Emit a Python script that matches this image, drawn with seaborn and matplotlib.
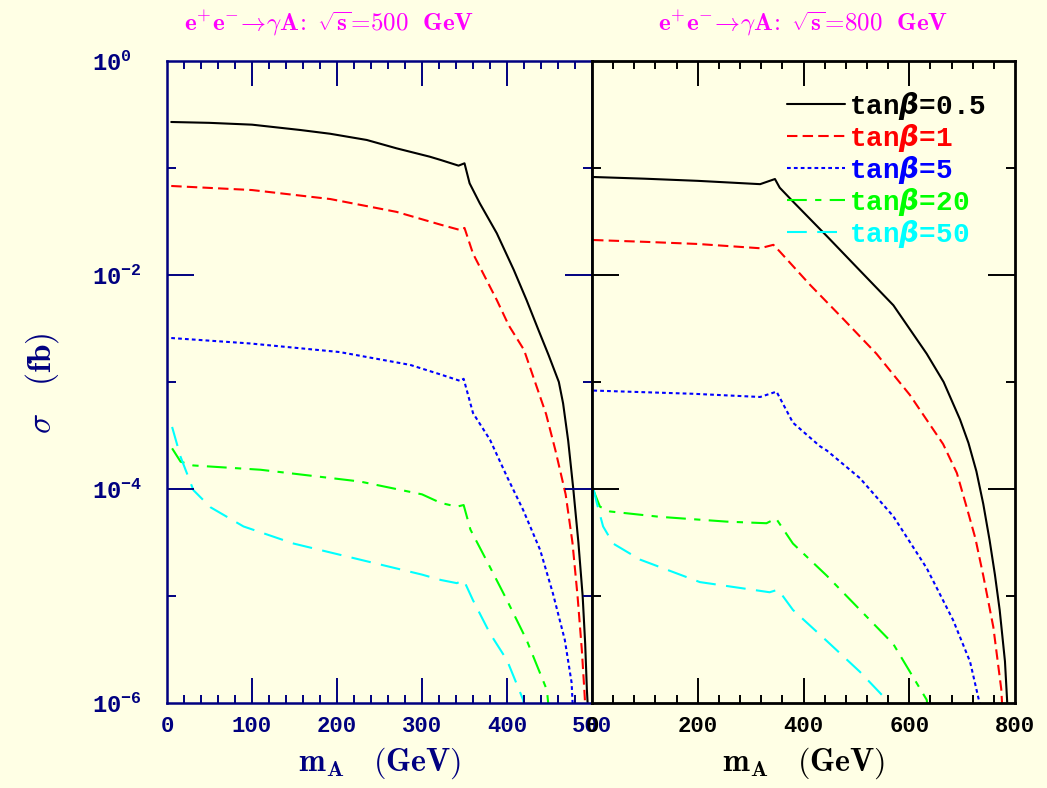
import numpy as np
import pandas as pd
import matplotlib
matplotlib.use("Agg")
import matplotlib.pyplot as plt
import seaborn as sns
from matplotlib.ticker import FixedLocator, MultipleLocator, NullFormatter

sns.set_theme(style="ticks")
plt.rcParams["font.family"] = ["Liberation Mono", "DejaVu Sans Mono", "DejaVu Sans"]
plt.rcParams["mathtext.fontset"] = "custom"
plt.rcParams["mathtext.rm"] = "Liberation Mono"
plt.rcParams["mathtext.it"] = "DejaVu Sans:italic:bold"
plt.rcParams["mathtext.bf"] = "Liberation Mono:bold"
plt.rcParams["mathtext.fallback"] = "cm"
plt.rcParams["axes.axisbelow"] = False

BG = "#FFFFE5"
NAVY = "#000080"
MAGENTA = "#FF00FF"

# ---------------- data: m_A (GeV) and log10(sigma / fb) ----------------
# sqrt(s) = 500 GeV
m_500_tb05 = [5, 50, 100, 157, 192, 235, 270, 309, 322, 343, 350, 356, 368, 388, 408, 423, 437, 449, 461, 466, 472, 478, 484, 489, 492, 494, 497]
s_500_tb05 = [-0.570, -0.578, -0.595, -0.645, -0.68, -0.738, -0.816, -0.894, -0.925, -0.978, -0.956, -1.143, -1.33, -1.61, -1.953, -2.234, -2.514, -2.75, -3.0, -3.2, -3.55, -4.0, -4.5, -5.0, -5.45, -5.88, -6.3]
m_500_tb1 = [5, 100, 192, 270, 322, 345, 350, 360, 380, 388, 402, 420, 433, 446, 457, 469, 477, 483, 488, 491, 494]
s_500_tb1 = [-1.168, -1.206, -1.29, -1.41, -1.53, -1.58, -1.56, -1.80, -2.11, -2.234, -2.47, -2.70, -3.0, -3.3, -3.64, -4.05, -4.5, -5.0, -5.5, -5.88, -6.3]
m_500_tb5 = [5, 98, 203, 286, 322, 345, 349, 360, 380, 400, 419, 439, 454, 468, 476, 479]
s_500_tb5 = [-2.589, -2.64, -2.72, -2.84, -2.93, -2.99, -2.97, -3.29, -3.54, -3.885, -4.196, -4.57, -4.975, -5.41, -5.81, -6.3]
m_500_tb20 = [6, 16, 31, 110, 227, 300, 322, 341, 349, 357, 380, 400, 423, 447, 452]
s_500_tb20 = [-3.62, -3.745, -3.78, -3.82, -3.93, -4.05, -4.13, -4.165, -4.15, -4.38, -4.73, -5.04, -5.41, -5.88, -6.3]
m_500_tb50 = [6, 16, 31, 51, 90, 149, 227, 300, 322, 341, 349, 360, 380, 400, 419, 425]
s_500_tb50 = [-3.42, -3.70, -4.01, -4.17, -4.35, -4.51, -4.66, -4.80, -4.85, -4.88, -4.85, -5.04, -5.35, -5.60, -5.97, -6.3]

# sqrt(s) = 800 GeV
m_800_tb05 = [2, 100, 200, 318, 346, 355, 380, 444, 507, 570, 633, 665, 696, 712, 727, 740, 752, 762, 771, 781, 785, 788]
s_800_tb05 = [-1.084, -1.10, -1.12, -1.151, -1.103, -1.184, -1.313, -1.636, -1.96, -2.283, -2.736, -3.0, -3.35, -3.57, -3.835, -4.14, -4.48, -4.8, -5.13, -5.61, -5.97, -6.3]
m_800_tb1 = [2, 100, 200, 318, 343, 355, 412, 475, 538, 601, 664, 690, 708, 725, 740, 759, 774, 779]
s_800_tb1 = [-1.673, -1.69, -1.71, -1.75, -1.718, -1.78, -2.09, -2.41, -2.736, -3.12, -3.58, -3.85, -4.16, -4.46, -4.81, -5.29, -5.87, -6.3]
m_800_tb5 = [2.5, 191, 318, 349, 380, 431, 444, 507, 570, 633, 683, 715, 733, 738]
s_800_tb5 = [-3.08, -3.11, -3.14, -3.09, -3.38, -3.60, -3.64, -3.90, -4.256, -4.74, -5.226, -5.614, -6.0, -6.3]
m_800_tb20 = [2.5, 15, 34, 128, 255, 330, 348, 380, 444, 507, 570, 633, 642]
s_800_tb20 = [-4.01, -4.165, -4.21, -4.26, -4.305, -4.32, -4.275, -4.51, -4.81, -5.13, -5.45, -5.97, -6.3]
m_800_tb50 = [2.5, 9, 21, 40, 91, 204, 336, 352, 380, 444, 507, 557, 575]
s_800_tb50 = [-3.99, -4.13, -4.35, -4.51, -4.66, -4.87, -4.965, -4.94, -5.13, -5.42, -5.71, -5.97, -6.1]

tanb_labels = ["0.5", "1", "5", "20", "50"]
series_500 = [(m_500_tb05, s_500_tb05), (m_500_tb1, s_500_tb1), (m_500_tb5, s_500_tb5),
              (m_500_tb20, s_500_tb20), (m_500_tb50, s_500_tb50)]
series_800 = [(m_800_tb05, s_800_tb05), (m_800_tb1, s_800_tb1), (m_800_tb5, s_800_tb5),
              (m_800_tb20, s_800_tb20), (m_800_tb50, s_800_tb50)]

colors = ["black", "#FF0000", "#0000FF", "#00FF00", "#00FFFF"]
linestyles = ["-", (0, (5, 2.5)), (0, (1.8, 1.5)), (0, (9.5, 4, 3, 4)), (0, (9.5, 5))]
LW = 1.5

W, H = 1047, 788
AX_H = 642
fig = plt.figure(figsize=(W / 100, H / 100), dpi=100, facecolor=BG)
axL = fig.add_axes([167 / W, (H - 703) / H, 425 / W, AX_H / H])
axR = fig.add_axes([592 / W, (H - 703) / H, 423 / W, AX_H / H])
AX_W = {axL: 425, axR: 423}

for ax, series in ((axL, series_500), (axR, series_800)):
    ax.set_yscale("log")
    for (mx, ls10), lab, c, st in zip(series, tanb_labels, colors, linestyles):
        df = pd.DataFrame({"mA": mx, "sigma": np.power(10.0, ls10)})
        sns.lineplot(data=df, x="mA", y="sigma", ax=ax, color=c, linestyle=st,
                     linewidth=LW, label=r"tan$\beta$=" + lab, legend=False)

legend_handles = list(axR.get_lines())

for ax, col, xmax, xmaj, xmin_ in ((axL, NAVY, 500, 100, 20), (axR, "black", 800, 200, 40)):
    ax.set_facecolor(BG)
    ax.grid(False)
    ax.set_xlim(0, xmax)
    ax.set_ylim(1e-6, 1)
    ax.set_xlabel("")
    ax.set_ylabel("")
    ax.xaxis.set_minor_locator(MultipleLocator(xmin_))
    ax.set_xticks(np.arange(0, xmax + 1, xmaj),
                  labels=[str(v) for v in np.arange(0, xmax + 1, xmaj)],
                  fontsize=16, fontweight="bold", color=col)
    ax.yaxis.set_minor_locator(FixedLocator([1e-1, 1e-3, 1e-5]))
    ax.yaxis.set_minor_formatter(NullFormatter())
    # tick marks are drawn as plain inward line segments below; native marks kept at zero length
    ax.tick_params(which="both", direction="in", length=0, color=col, labelcolor=col)
    ax.tick_params(axis="x", which="major", pad=9)
    for sp in ax.spines.values():
        sp.set_visible(True)
        sp.set_color(col)
        sp.set_linewidth(1.8 if ax is axL else 2.0)

axL.set_yticks([1e0, 1e-2, 1e-4, 1e-6],
               labels=[r"$\mathbf{10^{0}}$", r"$\mathbf{10^{-2}}$", r"$\mathbf{10^{-4}}$", r"$\mathbf{10^{-6}}$"],
               fontsize=17, color=NAVY, ha="left", va="center_baseline")
axL.tick_params(axis="y", which="major", pad=54)
axR.set_yticks([1e0, 1e-2, 1e-4, 1e-6], labels=[])
axR.tick_params(axis="y", labelleft=False)


def draw_inward_ticks(ax, col):
    xlo, xhi = ax.get_xlim()
    ylo, yhi = ax.get_ylim()
    xt = ax.get_xaxis_transform()
    yt = ax.get_yaxis_transform()
    for locs, L in ((ax.xaxis.get_majorticklocs(), 25), (ax.xaxis.get_minorticklocs(), 8)):
        f = L / AX_H
        for x in locs:
            if xlo < x < xhi:
                ax.plot([x, x], [0, f], transform=xt, color=col, lw=1.4, solid_capstyle="butt", zorder=3)
                ax.plot([x, x], [1, 1 - f], transform=xt, color=col, lw=1.4, solid_capstyle="butt", zorder=3)
    for locs, L in ((ax.yaxis.get_majorticklocs(), 27), (ax.yaxis.get_minorticklocs(), 9)):
        f = L / AX_W[ax]
        for y in locs:
            if ylo < y < yhi:
                ax.plot([0, f], [y, y], transform=yt, color=col, lw=1.4, solid_capstyle="butt", zorder=3)
                ax.plot([1, 1 - f], [y, y], transform=yt, color=col, lw=1.4, solid_capstyle="butt", zorder=3)
    ax.set_xlim(xlo, xhi)
    ax.set_ylim(ylo, yhi)


draw_inward_ticks(axL, NAVY)
draw_inward_ticks(axR, "black")

# legend
leg = axR.legend(handles=legend_handles, labels=[r"tan$\beta$=" + t for t in tanb_labels],
                 loc="upper left", bbox_to_anchor=((787 - 592) / 423, (703 - 90) / 642),
                 frameon=False, prop=dict(family="Liberation Mono", weight="bold", size=20),
                 handlelength=2.1, handletextpad=0.12, labelspacing=0.0,
                 borderpad=0, borderaxespad=0)
for t, c in zip(leg.get_texts(), colors):
    t.set_color(c)

# titles
fig.text(329 / W, 1 - 23 / H, r"$\mathbf{e^{+}e^{-}\!\rightarrow\!\gamma A\!:\ \sqrt{s}\!=\!500\ \ GeV}$",
         ha="center", va="center", color=MAGENTA, fontsize=18, math_fontfamily="cm")
fig.text(803 / W, 1 - 23 / H, r"$\mathbf{e^{+}e^{-}\!\rightarrow\!\gamma A\!:\ \sqrt{s}\!=\!800\ \ GeV}$",
         ha="center", va="center", color=MAGENTA, fontsize=18, math_fontfamily="cm")

# axis labels
fig.text(379 / W, 1 - 771 / H, r"$\mathbf{m_{A}\ \ \ (GeV)}$", ha="center", va="baseline",
         color=NAVY, fontsize=23, math_fontfamily="cm")
fig.text(803 / W, 1 - 771 / H, r"$\mathbf{m_{A}\ \ \ (GeV)}$", ha="center", va="baseline",
         color="black", fontsize=23, math_fontfamily="cm")
fig.text(42 / W, 1 - 383 / H, r"$\mathbf{\sigma\ \ \ (fb)}$", ha="center", va="center", rotation=90,
         color=NAVY, fontsize=24, math_fontfamily="cm")

fig.savefig("out.png", dpi=100, facecolor=BG)
